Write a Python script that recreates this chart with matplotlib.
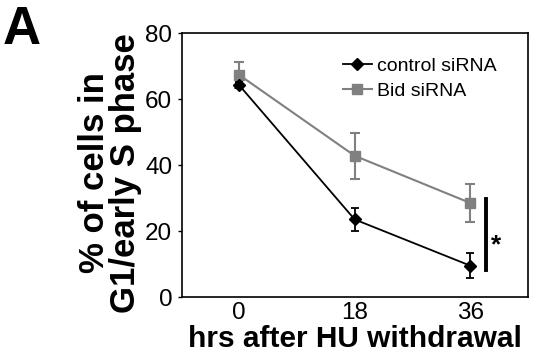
import numpy as np
import matplotlib.pyplot as plt

plt.rcParams['font.family'] = ['Liberation Sans', 'DejaVu Sans']

hrs = [0, 18, 36]
control = [64.2, 23.5, 9.5]
control_err = [1.0, 3.4, 3.7]
bid = [67.3, 42.8, 28.5]
bid_err = [3.9, 7.0, 5.7]

fig = plt.figure(figsize=(5.33, 3.61), dpi=100)
ax = fig.add_axes([182/533, 1-297/361, 346/533, 264/361])

gray = '#808080'
ax.errorbar(hrs, bid, yerr=bid_err, fmt='none', ecolor=gray, elinewidth=1.5,
            capsize=3.4, capthick=1.5, zorder=2)
ax.plot(hrs, bid, color=gray, marker='s', markersize=7.5, lw=1.5,
        label='Bid siRNA', zorder=2)
ax.errorbar(hrs, control, yerr=control_err, fmt='none', ecolor='black', elinewidth=1.3,
            capsize=3, capthick=1.3, zorder=3)
ax.plot(hrs, control, color='black', marker='D', markersize=6, lw=1.3,
        label='control siRNA', zorder=3)

# significance bar
ax.plot([38.5, 38.5], [29.7, 8.2], color='black', lw=2.8)
ax.text(40.05, 13.5, '*', fontsize=19, fontweight='bold', va='baseline', ha='center')

ax.set_xlim(-8.9, 45)
ax.set_ylim(0, 80)
ax.set_xticks(hrs)
ax.set_yticks([0, 20, 40, 60, 80])
ax.tick_params(axis='x', length=0, labelsize=17.5, pad=3.5)
ax.tick_params(axis='y', length=3, width=1, labelsize=17.5, pad=4)
for s in ax.spines.values():
    s.set_linewidth(1.2)

ax.set_xlabel('hrs after HU withdrawal', fontsize=21.5, fontweight='bold', labelpad=1)
ax.set_ylabel('% of cells in\nG1/early S phase', fontsize=25, fontweight='bold',
              linespacing=0.95)
ax.yaxis.set_label_coords(-0.115, 0.47)

handles, labels = ax.get_legend_handles_labels()
ax.legend(handles[::-1], labels[::-1], loc='upper left', frameon=False, fontsize=14,
          handlelength=1.5, handletextpad=0.25, labelspacing=0.4,
          borderpad=0, borderaxespad=0, bbox_to_anchor=(0.465, 0.909))

fig.text(0.005, 0.985, 'A', fontsize=38, fontweight='bold', va='top', ha='left')

fig.savefig('out.png', dpi=100)
